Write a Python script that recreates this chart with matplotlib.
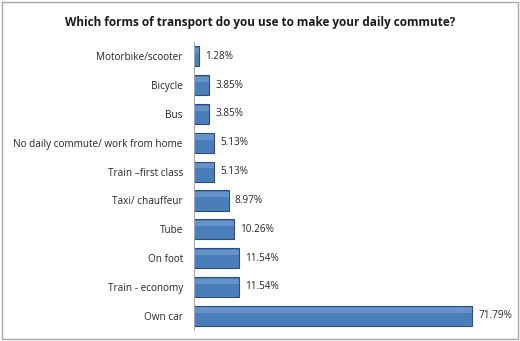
import matplotlib.pyplot as plt
from matplotlib.patches import Rectangle

categories = ['Motorbike/scooter', 'Bicycle', 'Bus', 'No daily commute/ work from home',
              'Train \u2013first class', 'Taxi/ chauffeur', 'Tube', 'On foot',
              'Train - economy', 'Own car']
values = [1.28, 3.85, 3.85, 5.13, 5.13, 8.97, 10.26, 11.54, 11.54, 71.79]

plt.rcParams['font.family'] = ['Open Sans', 'DejaVu Sans']

fig = plt.figure(figsize=(5.2, 3.41), dpi=100)
fig.patches.append(Rectangle((0.004, 0.006), 0.992, 0.988, transform=fig.transFigure,
                             fill=False, edgecolor='#a6a6a6', linewidth=1))
ax = fig.add_axes([0.373, 0.032, 0.596, 0.845])

pos = list(range(len(categories)))
ax.barh(pos, values, height=0.7, color='#4a7ebb', edgecolor='#2c4d75', linewidth=0.8)
# soft highlight on top of each bar (bevel look)
ax.barh([p - 0.2 for p in pos], values, height=0.18, color='#7ea6d8', linewidth=0, alpha=0.5)

for p, v in zip(pos, values):
    ax.text(v + 1.6, p, f'{v:.2f}%', va='center', ha='left', fontsize=7.2, color='#262626')

ax.set_yticks(pos)
ax.set_yticklabels(categories, fontsize=7.2, color='#262626')
ax.set_ylim(len(categories) - 0.5, -0.5)
ax.set_xlim(0, 80)
ax.set_xticks([])
ax.tick_params(axis='y', length=0, pad=8)
for s in ['top', 'right', 'bottom']:
    ax.spines[s].set_visible(False)
ax.spines['left'].set_color('#a6a6a6')

fig.text(0.5, 0.935, 'Which forms of transport do you use to make your daily commute?',
         ha='center', va='center', fontsize=8.5, fontweight='bold', color='#1a1a1a')

fig.savefig('out.png', dpi=100)
